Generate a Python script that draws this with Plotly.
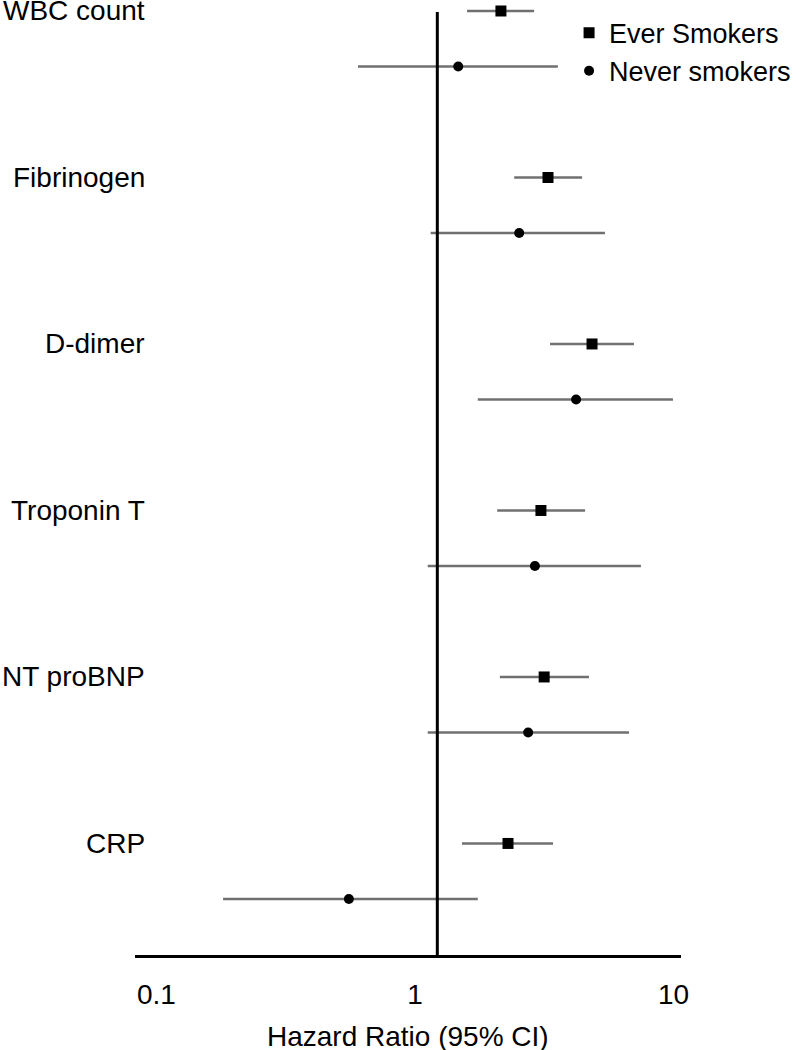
import plotly.graph_objects as go

# ---- data ----
biomarkers = ["WBC count", "Fibrinogen", "D-dimer", "Troponin T", "NT proBNP", "CRP"]

ever_hr = [2.15, 3.27, 4.84, 3.07, 3.16, 2.29]
ever_lo = [1.59, 2.42, 3.33, 2.08, 2.13, 1.52]
ever_hi = [2.89, 4.43, 7.03, 4.55, 4.71, 3.42]

never_hr = [1.47, 2.53, 4.20, 2.91, 2.74, 0.555]
never_lo = [0.602, 1.15, 1.75, 1.12, 1.12, 0.181]
never_hi = [3.57, 5.43, 9.95, 7.48, 6.73, 1.75]

null_line_hr = 1.22
x_tick_vals = [0.1, 1, 10]
x_tick_text = ["0.1", "1", "10"]

FONT = "Liberation Sans, Arial, sans-serif"
FS = 28

ever_y = [3 * i for i in range(len(biomarkers))]
never_y = [3 * i + 1 for i in range(len(biomarkers))]

fig = go.Figure()

def add_series(name, hr, lo, hi, ys, symbol, size):
    fig.add_trace(go.Scatter(
        x=hr, y=ys, mode="markers", name=name,
        marker=dict(symbol=symbol, size=size, color="black"),
        error_x=dict(type="data", symmetric=False,
                     array=[h - m for h, m in zip(hi, hr)],
                     arrayminus=[m - l for m, l in zip(hr, lo)],
                     color="#707070", thickness=2.5, width=0),
        cliponaxis=False,
    ))

add_series("Ever Smokers", ever_hr, ever_lo, ever_hi, ever_y, "square", 11)
add_series("Never smokers", never_hr, never_lo, never_hi, never_y, "circle", 10)

fig.add_shape(type="line", xref="x", yref="y",
              x0=null_line_hr, x1=null_line_hr, y0=0.02, y1=17.01,
              line=dict(color="black", width=3))

for name, y in zip(biomarkers, ever_y):
    fig.add_annotation(text=name, xref="paper", yref="y", x=0.022, y=y,
                       xanchor="right", yanchor="middle", showarrow=False,
                       font=dict(family=FONT, size=FS, color="black"))

fig.add_annotation(text="Hazard Ratio (95% CI)", xref="paper", yref="paper",
                   x=0.5, y=-0.085, xanchor="center", yanchor="middle",
                   showarrow=False, font=dict(family=FONT, size=FS, color="black"))

fig.update_xaxes(type="log", range=[-1.083, 1.029],
                 tickvals=x_tick_vals, ticktext=x_tick_text,
                 showline=True, linecolor="black", linewidth=3,
                 showgrid=False, zeroline=False, ticks="",
                 ticklabelstandoff=12,
                 tickfont=dict(family=FONT, size=FS, color="black"))
fig.update_yaxes(range=[17.01, -0.198], visible=False, showgrid=False, zeroline=False)

fig.update_layout(
    width=806, height=1050,
    margin=dict(l=135, r=125, t=0, b=95),
    plot_bgcolor="white", paper_bgcolor="white",
    font=dict(family=FONT, size=FS, color="black"),
    showlegend=True,
    legend=dict(x=0.795, y=0.991, xanchor="left", yanchor="top",
                bgcolor="rgba(0,0,0,0)", tracegroupgap=0,
                font=dict(family=FONT, size=27, color="black")),
)

fig.write_html("out.html",
               config={"displayModeBar": False},
               post_script="document.body.style.margin='0';document.body.style.overflow='hidden';")
